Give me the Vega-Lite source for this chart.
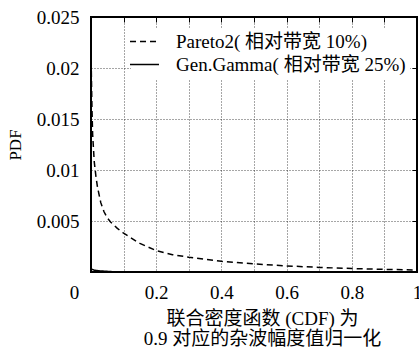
{
  "$schema": "https://vega.github.io/schema/vega-lite/v6.json",
  "width": 326,
  "height": 255,
  "autosize": {"type": "none"},
  "padding": {"left": 91, "top": 17, "right": 2, "bottom": 79},
  "background": "white",
  "config": {
    "view": {"stroke": "black", "strokeWidth": 2},
    "font": "Liberation Serif, Noto Sans CJK SC",
    "axis": {"labelFont": "Liberation Serif, Noto Sans CJK SC", "titleFont": "Liberation Serif, Noto Sans CJK SC", "labelColor": "black", "titleColor": "black", "tickColor": "black", "titleFontWeight": "normal"}
  },
  "data": {
    "values": [
      {"series": "Pareto2( 相对带宽 10%)", "x": 0.001, "y": 0.0197},
      {"series": "Pareto2( 相对带宽 10%)", "x": 0.003, "y": 0.016},
      {"series": "Pareto2( 相对带宽 10%)", "x": 0.005, "y": 0.0135},
      {"series": "Pareto2( 相对带宽 10%)", "x": 0.01, "y": 0.0108},
      {"series": "Pareto2( 相对带宽 10%)", "x": 0.015, "y": 0.0094},
      {"series": "Pareto2( 相对带宽 10%)", "x": 0.02, "y": 0.0083},
      {"series": "Pareto2( 相对带宽 10%)", "x": 0.03, "y": 0.0068},
      {"series": "Pareto2( 相对带宽 10%)", "x": 0.04, "y": 0.0059},
      {"series": "Pareto2( 相对带宽 10%)", "x": 0.05, "y": 0.0053},
      {"series": "Pareto2( 相对带宽 10%)", "x": 0.06, "y": 0.0049},
      {"series": "Pareto2( 相对带宽 10%)", "x": 0.08, "y": 0.0043},
      {"series": "Pareto2( 相对带宽 10%)", "x": 0.1, "y": 0.0038},
      {"series": "Pareto2( 相对带宽 10%)", "x": 0.15, "y": 0.0028},
      {"series": "Pareto2( 相对带宽 10%)", "x": 0.2, "y": 0.0021},
      {"series": "Pareto2( 相对带宽 10%)", "x": 0.25, "y": 0.0017},
      {"series": "Pareto2( 相对带宽 10%)", "x": 0.3, "y": 0.00145},
      {"series": "Pareto2( 相对带宽 10%)", "x": 0.4, "y": 0.00105},
      {"series": "Pareto2( 相对带宽 10%)", "x": 0.5, "y": 0.0008},
      {"series": "Pareto2( 相对带宽 10%)", "x": 0.6, "y": 0.0006},
      {"series": "Pareto2( 相对带宽 10%)", "x": 0.7, "y": 0.00045},
      {"series": "Pareto2( 相对带宽 10%)", "x": 0.8, "y": 0.00034},
      {"series": "Pareto2( 相对带宽 10%)", "x": 0.9, "y": 0.00026},
      {"series": "Pareto2( 相对带宽 10%)", "x": 1.0, "y": 0.0002},
      {"series": "Gen.Gamma( 相对带宽 25%)", "x": 0.001, "y": 0.0003},
      {"series": "Gen.Gamma( 相对带宽 25%)", "x": 0.01, "y": 0.00018},
      {"series": "Gen.Gamma( 相对带宽 25%)", "x": 0.03, "y": 0.0001},
      {"series": "Gen.Gamma( 相对带宽 25%)", "x": 0.06, "y": 0.00004},
      {"series": "Gen.Gamma( 相对带宽 25%)", "x": 0.1, "y": 0.00001},
      {"series": "Gen.Gamma( 相对带宽 25%)", "x": 0.2, "y": 0.0},
      {"series": "Gen.Gamma( 相对带宽 25%)", "x": 0.5, "y": 0.0},
      {"series": "Gen.Gamma( 相对带宽 25%)", "x": 1.0, "y": 0.0}
    ]
  },
  "layer": [
    {
      "mark": {"type": "line", "color": "black", "strokeWidth": 1.5, "clip": true},
      "encoding": {
        "x": {
          "field": "x", "type": "quantitative",
          "scale": {"domain": [0, 1], "nice": false, "zero": false},
          "axis": {
            "orient": "bottom",
            "values": [0, 0.1, 0.2, 0.3, 0.4, 0.5, 0.6, 0.7, 0.8, 0.9, 1],
            "format": "~g",
            "labelExpr": "round(datum.value*10) % 2 == 0 ? datum.label : ''",
            "labelFontSize": 19,
            "labelPadding": 11,
            "labelOffset": {"condition": {"test": "datum.value == 0", "value": -17}, "value": 0},
            "labelFlush": false,
            "labelOverlap": false,
            "ticks": false,
            "domain": false,
            "grid": true,
            "gridColor": "black",
            "gridDash": [1, 2],
            "gridOpacity": 0.7,
            "gridWidth": 1,
            "title": ["联合密度函数 (CDF) 为", "0.9 对应的杂波幅度值归一化"],
            "titleFontSize": 19,
            "titleLineHeight": 20,
            "titlePadding": 7,
            "titleX": 171
          }
        },
        "y": {
          "field": "y", "type": "quantitative",
          "scale": {"domain": [0, 0.025], "nice": false},
          "axis": {
            "orient": "left",
            "values": [0, 0.005, 0.01, 0.015, 0.02, 0.025],
            "format": "~g",
            "labelExpr": "datum.value == 0 ? '' : datum.label",
            "labelFontSize": 19,
            "labelPadding": 12,
            "labelFlush": false,
            "labelOverlap": false,
            "ticks": false,
            "domain": false,
            "grid": true,
            "gridColor": "black",
            "gridDash": [1, 2],
            "gridOpacity": 0.7,
            "gridWidth": 1,
            "title": "PDF",
            "titleFontSize": 17,
            "titlePadding": 12
          }
        },
        "strokeDash": {
          "field": "series", "type": "nominal",
          "scale": {"domain": ["Pareto2( 相对带宽 10%)", "Gen.Gamma( 相对带宽 25%)"], "range": [[6, 4], [1, 0]]},
          "legend": {
            "orient": "none",
            "legendX": 40,
            "legendY": 11,
            "title": null,
            "symbolType": "M-2,0H2",
            "symbolSize": 210,
            "symbolStrokeWidth": 1.5,
            "symbolStrokeColor": "black",
            "symbolFillColor": "transparent",
            "labelFontSize": 19,
            "labelFont": "Liberation Serif, Noto Sans CJK SC",
            "labelColor": "black",
            "labelOffset": 22,
            "labelLimit": 0,
            "rowPadding": 3,
            "padding": 4,
            "fillColor": "white"
          }
        }
      }
    },
    {
      "mark": {"type": "line", "opacity": 0},
      "encoding": {
        "x": {
          "field": "x", "type": "quantitative",
          "axis": {
            "orient": "top",
            "values": [0, 0.1, 0.2, 0.3, 0.4, 0.5, 0.6, 0.7, 0.8, 0.9, 1],
            "labels": false, "grid": false, "domain": false,
            "ticks": true, "tickSize": -5, "tickWidth": 1, "title": null
          }
        },
        "y": {
          "field": "y", "type": "quantitative",
          "axis": {
            "orient": "right",
            "values": [0, 0.005, 0.01, 0.015, 0.02, 0.025],
            "labels": false, "grid": false, "domain": false,
            "ticks": true, "tickSize": -5, "tickWidth": 1, "title": null
          }
        }
      }
    }
  ]
}
